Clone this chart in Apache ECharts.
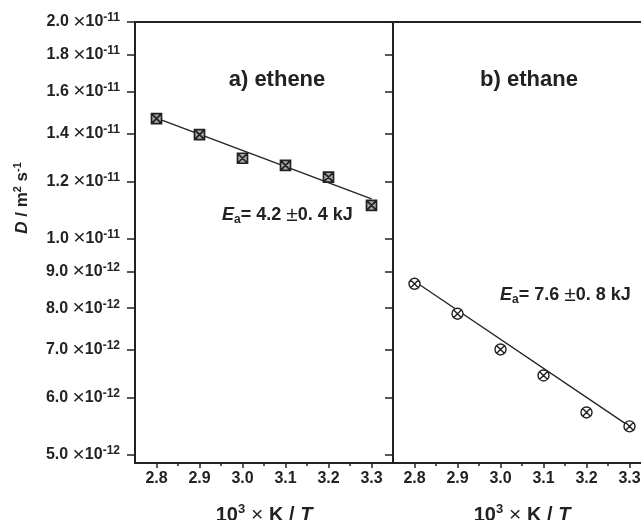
<!DOCTYPE html>
<html lang="en">
<head>
  <meta charset="UTF-8">
  <title>D vs 1/T</title>
  <style>
    html, body { margin: 0; padding: 0; background: #fff; }
    #chart { width: 641px; height: 520px; }
  </style>
  <script src="https://cdn.jsdelivr.net/npm/echarts@6/dist/echarts.min.js"></script>
</head>
<body>
  <div id="chart"></div>
  <script>
    // data
    const invT = [2.8, 2.9, 3.0, 3.1, 3.2, 3.3];
    const etheneD = [1.468e-11, 1.395e-11, 1.293e-11, 1.264e-11, 1.217e-11, 1.112e-11];
    const ethaneD = [8.65e-12, 7.86e-12, 7.01e-12, 6.45e-12, 5.73e-12, 5.48e-12];
    const fitX = [2.8, 3.3];
    const etheneFit = [1.47e-11, 1.135e-11];
    const ethaneFit = [8.72e-12, 5.48e-12];

    const yTicks = [5e-12, 6e-12, 7e-12, 8e-12, 9e-12, 1e-11, 1.2e-11, 1.4e-11, 1.6e-11, 1.8e-11, 2e-11];
    const xTicks = [2.8, 2.9, 3.0, 3.1, 3.2, 3.3];
    const xMinorTicks = [2.85, 2.95, 3.05, 3.15, 3.25];
    const yMin = 4.874e-12, yMax = 2e-11;
    const xMin = 2.75, xMax = 3.35;

    const FONT = "'Liberation Sans', Arial, sans-serif";
    const INK = '#222';

    // log axis is drawn as a value axis over log10(D)
    const lg = v => Math.log10(v);
    const pairs = (xs, ys) => xs.map((x, i) => [x, lg(ys[i])]);

    function yLabel(v) {
      const e = Math.floor(v + 1e-9);
      const m = Math.pow(10, v - e).toFixed(1);
      return '{m|' + m + ' }{x|×}{m|10}{s|' + e + '}';
    }

    const labelRich = {
      m: { fontFamily: FONT, fontWeight: 'bold', fontSize: 16, color: INK, lineHeight: 20 },
      x: { fontFamily: FONT, fontWeight: 'normal', fontSize: 21, color: INK, lineHeight: 20 },
      s: { fontFamily: FONT, fontWeight: 'bold', fontSize: 12, color: INK, verticalAlign: 'top', lineHeight: 11 }
    };

    const nameRich = {
      n: { fontFamily: FONT, fontWeight: 'bold', fontSize: 20, color: INK, lineHeight: 24 },
      x: { fontFamily: FONT, fontWeight: 'normal', fontSize: 21, color: INK, lineHeight: 24 },
      i: { fontFamily: FONT, fontWeight: 'bold', fontStyle: 'italic', fontSize: 20, color: INK, lineHeight: 24 },
      s: { fontFamily: FONT, fontWeight: 'bold', fontSize: 13, color: INK, verticalAlign: 'top', lineHeight: 13 }
    };

    const axisLine = { show: true, onZero: false, lineStyle: { color: INK, width: 2 } };

    function xMain(grid) {
      return {
        type: 'value', gridIndex: grid, min: xMin, max: xMax, position: 'bottom',
        axisLine: axisLine,
        splitLine: { show: false },
        axisTick: { show: true, inside: false, length: 5, customValues: xTicks, lineStyle: { color: INK, width: 1.5 } },
        axisLabel: {
          customValues: xTicks, margin: 8,
          formatter: v => v.toFixed(1),
          fontFamily: FONT, fontWeight: 'bold', fontSize: 16, color: INK
        },
        name: '{n|10}{s|3}{x| × }{n|K / }{i|T}',
        nameLocation: 'middle', nameGap: 40,
        nameTextStyle: { rich: nameRich }
      };
    }
    function xMinor(grid) {
      return {
        type: 'value', gridIndex: grid, min: xMin, max: xMax, position: 'bottom',
        axisLine: { show: false },
        splitLine: { show: false },
        axisTick: { show: true, inside: false, length: 3, customValues: xMinorTicks, lineStyle: { color: INK, width: 1.5 } },
        axisLabel: { show: false }
      };
    }
    function xTop(grid) {
      return {
        type: 'value', gridIndex: grid, min: xMin, max: xMax, position: 'top',
        axisLine: axisLine, axisTick: { show: false }, axisLabel: { show: false },
        splitLine: { show: false }
      };
    }
    function yAxis(grid, labels) {
      return {
        type: 'value', gridIndex: grid, min: lg(yMin), max: lg(yMax), position: 'left',
        axisLine: axisLine,
        splitLine: { show: false },
        axisTick: { show: true, inside: false, length: 8, customValues: yTicks.map(lg), lineStyle: { color: INK, width: 1.5 } },
        axisLabel: {
          show: labels, customValues: yTicks.map(lg), margin: 15,
          formatter: yLabel, rich: labelRich
        }
      };
    }

    const squareX = 'path://M0,0L10,0L10,10L0,10Z M0,0L10,10 M10,0L0,10';
    const circleX = 'path://M0,5A5,5,0,1,1,10,5A5,5,0,1,1,0,5Z M1.5,1.5L8.5,8.5 M8.5,1.5L1.5,8.5';

    const eaRich = {
      e: { font: 'italic bold 18px ' + FONT, fill: INK, lineHeight: 22 },
      b: { font: 'bold 12px ' + FONT, fill: INK, verticalAlign: 'bottom', lineHeight: 12 },
      n: { font: 'bold 18px ' + FONT, fill: INK, lineHeight: 22 },
      p: { font: '21px ' + FONT, fill: INK, lineHeight: 22 }
    };

    const chart = echarts.init(document.getElementById('chart'), null, { renderer: 'canvas' });
    chart.setOption({
      animation: false,
      backgroundColor: '#fff',
      grid: [
        { left: 135, top: 22, width: 258, bottom: 57, outerBoundsMode: 'none' },
        { left: 393, top: 22, right: -10, bottom: 57, outerBoundsMode: 'none' }
      ],
      xAxis: [xMain(0), xMain(1), xMinor(0), xMinor(1), xTop(0), xTop(1)],
      yAxis: [yAxis(0, true), yAxis(1, false)],
      series: [
        {
          type: 'line', xAxisIndex: 0, yAxisIndex: 0, data: pairs(fitX, etheneFit),
          showSymbol: false, lineStyle: { color: INK, width: 1.3 }, z: 2
        },
        {
          type: 'scatter', xAxisIndex: 0, yAxisIndex: 0, data: pairs(invT, etheneD),
          symbol: squareX, symbolSize: 10,
          itemStyle: { color: '#aaa', borderColor: INK, borderWidth: 1.7, opacity: 1 }, z: 3
        },
        {
          type: 'line', xAxisIndex: 1, yAxisIndex: 1, data: pairs(fitX, ethaneFit),
          showSymbol: false, lineStyle: { color: INK, width: 1.3 }, z: 2
        },
        {
          type: 'scatter', xAxisIndex: 1, yAxisIndex: 1, data: pairs(invT, ethaneD),
          symbol: circleX, symbolSize: 11,
          itemStyle: { color: '#fff', borderColor: INK, borderWidth: 1.4, opacity: 1 }, z: 3
        }
      ],
      graphic: [
        {
          type: 'text', x: 277, y: 80,
          style: { text: 'a) ethene', font: 'bold 22px ' + FONT, fill: INK, align: 'center', verticalAlign: 'middle' }
        },
        {
          type: 'text', x: 529, y: 80,
          style: { text: 'b) ethane', font: 'bold 22px ' + FONT, fill: INK, align: 'center', verticalAlign: 'middle' }
        },
        {
          type: 'text', x: 222, y: 215,
          style: { text: '{e|E}{b|a}{n|= 4.2 }{p|±}{n|0. 4 kJ}', align: 'left', verticalAlign: 'middle', rich: eaRich }
        },
        {
          type: 'text', x: 500, y: 295,
          style: { text: '{e|E}{b|a}{n|= 7.6 }{p|±}{n|0. 8 kJ}', align: 'left', verticalAlign: 'middle', rich: eaRich }
        },
        {
          type: 'text', x: 22, y: 198, rotation: Math.PI / 2,
          style: {
            text: '{i|D}{n| / m}{s|2}{n| s}{s|-1}', align: 'center', verticalAlign: 'middle',
            rich: {
              i: { font: 'italic bold 17px ' + FONT, fill: INK, lineHeight: 20 },
              n: { font: 'bold 17px ' + FONT, fill: INK, lineHeight: 20 },
              s: { font: 'bold 11px ' + FONT, fill: INK, verticalAlign: 'top', lineHeight: 10 }
            }
          }
        }
      ]
    });
  </script>
</body>
</html>
